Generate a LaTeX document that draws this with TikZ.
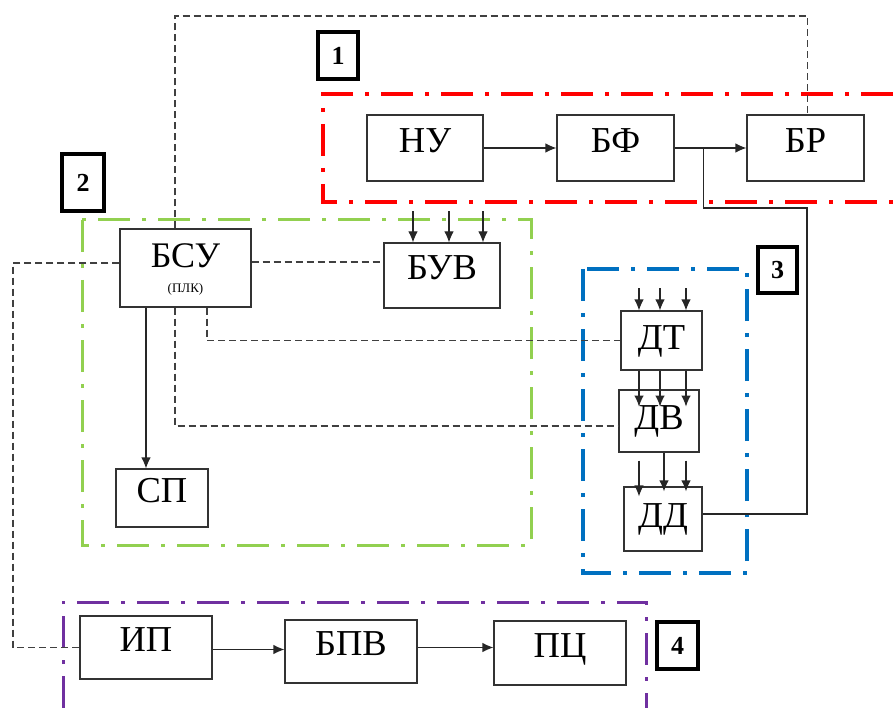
\documentclass[tikz,border=0pt]{standalone}
\usepackage{fontspec}
\setmainfont{Liberation Serif}
\usetikzlibrary{arrows.meta,calc}
\definecolor{grpRed}{RGB}{255,0,0}
\definecolor{grpGreen}{RGB}{146,208,80}
\definecolor{grpBlue}{RGB}{0,112,192}
\definecolor{grpPurple}{RGB}{112,48,160}
\tikzset{
  box/.style={draw=black!80, line width=1.1pt, inner sep=0pt, text depth=15pt,
    font=\fontsize{36.5}{36.5}\selectfont},
  sbox/.style={box, text depth=6pt},
  tag/.style={draw=black, line width=3.5pt, inner sep=0pt,
    font=\bfseries\fontsize{26}{26}\selectfont},
  grp/.style={line width=3.5pt, dash pattern=on 32pt off 12pt on 4pt off 12pt},
  link/.style={draw=black!85, line width=1.1pt},
  arr/.style={link, -{Latex[length=11pt,width=9.5pt]}},
  sig/.style={draw=black!75, line width=1.1pt, dash pattern=on 7pt off 4pt},
}
\begin{document}
\begin{tikzpicture}[x=1pt,y=-1pt]
\useasboundingbox (0,0) rectangle (893,708);
\fill[white] (0,0) rectangle (893,708);

% group frames
\draw[grp, grpRed] (893,94) -- (323,94) -- (323,202) -- (893,202);
\draw[grp, grpGreen, line width=3pt] (82,220) rectangle (531,545);
\draw[grp, grpBlue] (583,269) rectangle (747,573);
\draw[grp, grpPurple, line width=3pt] (63,708) -- (63,602) -- (646,602) -- (646,708);

% group tags
\node[tag, minimum width=40pt, minimum height=47pt] (t1) at (338,55.5) {1};
\node[tag, minimum width=42pt, minimum height=57pt] (t2) at (83,182.5) {2};
\node[tag, minimum width=39pt, minimum height=46pt] (t3) at (777.5,270) {3};
\node[tag, minimum width=41pt, minimum height=47pt] (t4) at (677.5,645.5) {4};

% blocks
\node[box, minimum width=116pt, minimum height=66pt] (nu) at (425,148) {НУ};
\node[box, minimum width=117pt, minimum height=66pt] (bf) at (615.5,148) {БФ};
\node[box, minimum width=117pt, minimum height=66pt] (br) at (805.5,148) {БР};
\node[box, minimum width=131pt, minimum height=78pt] (bsu) at (185.5,268) {};
\node[font=\fontsize{36}{36}\selectfont] (bsut) at (185.5,256) {БСУ};
\node[font=\fontsize{13}{13}\selectfont] (plk) at (185.5,289) {(ПЛК)};
\node[box, minimum width=116pt, minimum height=65pt] (buv) at (442,275.5) {БУВ};
\node[box, minimum width=92pt, minimum height=58pt] (sp) at (162,498) {СП};
\node[sbox, minimum width=81pt, minimum height=59pt] (dt) at (661.5,340.5) {ДТ};
\node[sbox, minimum width=80pt, minimum height=62pt] (dv) at (659,421) {ДВ};
\node[sbox, minimum width=78pt, minimum height=64pt] (dd) at (663,519) {ДД};
\node[box, minimum width=132pt, minimum height=63pt] (ip) at (146,647.5) {ИП};
\node[box, minimum width=132pt, minimum height=63pt] (bpv) at (351,651.5) {БПВ};
\node[box, minimum width=132pt, minimum height=64pt] (pc) at (560,653) {ПЦ};

% power chain
\draw[arr] (nu.east) -- (bf.west);
\draw[arr] (bf.east) -- (br.west);
\coordinate (jn) at ($(bf.east)+(29,0)$);
\coordinate (rt) at (807,208);
\coordinate (ddin) at ([yshift=5pt]dd.east);
\draw[link] (jn) |- (rt) -- (rt |- ddin) -- (ddin);

% control links
\draw[arr] ([xshift=-39.5pt]bsu.south) -- ([xshift=-39.5pt]bsu.south |- sp.north);
\coordinate (up) at (0,16);
\coordinate (bsutop) at ([xshift=-10.5pt]bsu.north);
\draw[sig] (bsutop) -- (bsutop |- up) -| ([xshift=2pt]br.north);
\coordinate (bsue) at ([yshift=6pt]bsu.east);
\draw[sig] (bsue) -- (bsue -| buv.west);
\draw[sig] ([xshift=21.5pt]bsu.south) |- (dt.west);
\draw[sig] ([xshift=-10.5pt]bsu.south) |- ([yshift=-5pt]dv.west);
\coordinate (lf) at (13,0);
\coordinate (bsuw) at ([yshift=5pt]bsu.west);
\draw[sig] (bsuw) -- (bsuw -| lf) |- (ip.west);

% inputs of БУВ
\foreach \dx in {-29,7,41}
  \draw[arr] ([xshift=\dx pt, yshift=31pt]buv.north) -- ([xshift=\dx pt]buv.north);

% sensor chain
\foreach \dx in {-22.5,-1.5,24.5}
  \draw[arr] ([xshift=\dx pt, yshift=22pt]dt.north) -- ([xshift=\dx pt]dt.north);
\foreach \dx in {-22.5,-1.5,24.5}
  \draw[arr] ([xshift=\dx pt]dt.south) -- ([xshift=\dx pt, yshift=-36pt]dt.south);
\coordinate (ddtop) at ([yshift=-10pt]dd.north);
\coordinate (dva) at ([xshift=-20pt, yshift=-8pt]dv.south);
\coordinate (dvb) at ([xshift=5pt]dv.south);
\coordinate (dvc) at ([xshift=27pt, yshift=-8pt]dv.south);
\draw[arr] (dva) -- (dva |- ddtop);
\draw[arr] (dvb) -- ([yshift=5pt]dvb |- ddtop);
\draw[arr] (dvc) -- ([yshift=5pt]dvc |- ddtop);

% source chain
\draw[arr] ([yshift=-2pt]ip.east) -- ([yshift=-2pt]ip.east -| bpv.west);
\coordinate (bpve) at ([yshift=4pt]bpv.east);
\draw[arr] (bpve) -- (bpve -| pc.west);
\end{tikzpicture}
\end{document}
